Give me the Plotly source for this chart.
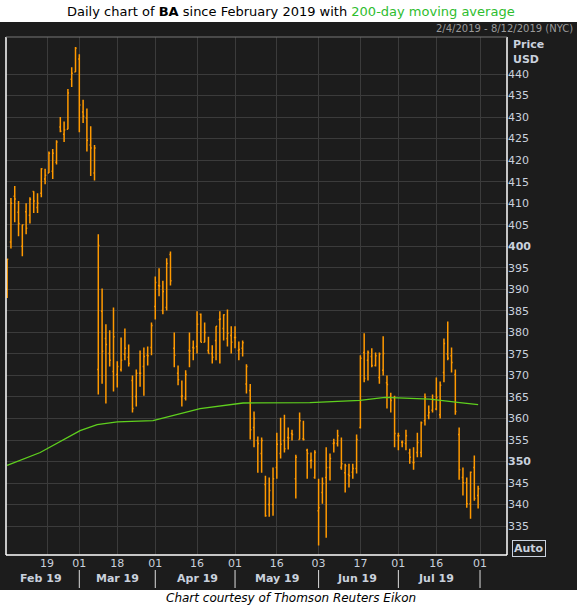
import plotly.graph_objects as go

# Daily OHLC for BA, one entry per trading bar
opens = [390, 401, 411.6, 407.9, 400, 408, 407.2, 412.7, 409, 412.3,
         415.6, 417, 417.4, 419.5, 427.7, 426, 427.2, 438.8, 440.5, 443.5,
         431.2, 429.8, 423.5, 417, 371.4, 384.9, 378.6, 375.1, 370.9, 370.2,
         371.4, 374.9, 374.2, 368.8, 365.1, 370.5, 372.1, 374.7, 376.5, 386,
         390.9, 385.1, 385.8, 398.1, 376.3, 370.5, 365.1, 364.7, 375.8, 376.5,
         376.7, 384.2, 377.7, 375.8, 375.1, 378.1, 383, 380.9, 378.6, 379.3,
         378.8, 375.8, 376.3, 368, 366.5, 357.9, 354.9, 351.9, 344.7, 340,
         340, 348.6, 351.9, 354.9, 355.6, 356.5, 346, 355.1, 355.3, 352.6,
         350.2, 346.3, 338.6, 342.8, 346.3, 348.6, 354.2, 354.2, 348.6, 347.4,
         347, 347.5, 348.4, 357.9, 375.3, 373.5, 374.4, 372.3, 369.5, 371.2,
         368.3, 365, 364.9, 356, 354.5, 354.2, 352, 349.8, 352.1, 352.1,
         359.5, 360.7, 361.9, 362.2, 360.9, 370.7, 375, 374.6, 370.2, 356.3,
         346.3, 345.1, 340.2, 348.6, 342.1]
highs = [397, 411.2, 414, 410.5, 405, 410, 411.4, 412.8, 412.3, 418.1,
         418, 422, 422.6, 424.6, 430, 429, 436.5, 441.6, 446.3, 444.6,
         434, 432, 427.9, 423.5, 402.8, 390.2, 381.9, 380.5, 385.8, 373.3,
         378.8, 380.9, 377.2, 370, 371.4, 375.8, 376.5, 376.7, 382.3, 393,
         394.9, 392, 397.2, 398.8, 380, 372.3, 368.8, 371.2, 380, 378.1,
         384.9, 384.4, 382.3, 379, 377, 381.4, 384.9, 384.2, 385.3, 381.4,
         381.4, 377.9, 378.1, 372.6, 368, 361.6, 355.8, 355.6, 346.7, 346.3,
         348.6, 356.7, 360.2, 360.9, 357.9, 357.4, 351.6, 361.4, 359.5, 353,
         352.1, 352.6, 346, 346.3, 353.3, 351.9, 355.3, 357.4, 355.6, 349.5,
         349.5, 349.5, 356.3, 374.7, 379.8, 375.8, 376.3, 375.3, 375.3, 379.1,
         370, 366, 365.3, 356.7, 354.9, 357.4, 353, 353.3, 356.7, 359.3,
         365.8, 363, 365.6, 369.5, 368.6, 378.6, 382.5, 376.5, 371.4, 357.9,
         348.6, 346.3, 347.7, 351.4, 344.4]
lows = [388, 399.5, 405.6, 402.3, 397.7, 402.8, 405.3, 407.7, 407.7, 411.4,
        414.4, 417, 415.6, 419, 426.5, 424.2, 427.2, 437, 440.5, 426.5,
        428.6, 422, 416.3, 415.3, 365.6, 368.1, 363.5, 372.1, 366.3, 367.2,
        370.9, 373.5, 372.1, 361.4, 362.8, 367.4, 365.3, 372.3, 374.7, 383,
        388.4, 384.2, 385.1, 390.9, 371.9, 367.7, 362.8, 364.2, 371.9, 373.5,
        375.1, 377.7, 377.7, 375.1, 372.8, 373.5, 372.8, 378.1, 376.7, 375.1,
        376.3, 373.5, 374.4, 365.8, 355.1, 353.3, 347.4, 347.4, 337.2, 337.2,
        337.4, 346, 350.7, 352.1, 352.8, 354.9, 341.4, 355.1, 354.9, 346,
        348.4, 346, 330.5, 340.2, 332.3, 345.6, 352.1, 353.5, 348.1, 342.8,
        344, 346, 347.2, 357.7, 368.4, 368.8, 371.9, 372.1, 368.1, 370,
        362.3, 361.4, 353.3, 352.6, 353.3, 352.6, 349.5, 348.1, 351, 351,
        358.4, 359.8, 361.4, 361.9, 360, 368.4, 373.5, 370.7, 360.9, 345.8,
        342.1, 339.3, 336.7, 340.9, 339.1]
closes = [397, 410, 411, 405.3, 405, 404.2, 410.9, 410.5, 410, 418,
          416.5, 421.6, 421.6, 424.2, 426.7, 427, 435.6, 440.2, 446, 432.8,
          430.2, 424.6, 422.8, 422.8, 400.2, 375.6, 377.2, 373.5, 379, 372.1,
          373.5, 376.3, 372.8, 362.3, 370.5, 370.5, 374.4, 374.6, 381.6, 391.6,
          390.8, 389.5, 396, 392, 374.7, 369, 365.2, 370.2, 375.7, 376.4,
          381.9, 377.7, 380, 375.1, 374.2, 381.4, 383.1, 384.1, 379.8, 377.7,
          378.8, 376, 377.6, 372.1, 357.4, 360, 354.2, 354.9, 337.4, 343.3,
          346, 354, 354, 353, 355.5, 356.3, 351, 359.5, 355.1, 351.9,
          350.3, 352.1, 339.3, 344.9, 348.6, 350.7, 354.3, 356, 349.5, 349,
          346.7, 348.4, 355.1, 374, 369.3, 375.3, 372.3, 374.6, 375, 375.1,
          367.9, 364.2, 356.5, 356, 354.5, 356, 351, 349.8, 354.4, 359,
          364.9, 361.4, 364.4, 364.9, 367.7, 377.4, 374, 373, 361.6, 348.1,
          345.1, 340.2, 347.5, 341.4, 343.7]

# 200-day moving average, sampled at bar positions
ma_idx = [0, 8.7, 19.2, 23.7, 29, 38.4, 50.8, 62.1, 79.7, 92.9, 99.5, 111.3, 119.2, 124]
ma_val = [349.1, 352.1, 357.2, 358.6, 359.2, 359.5, 362.3, 363.6, 363.7, 364.2, 364.9, 364.5, 363.7, 363.2]

# x tick positions (bar index) and labels
tick_idx = [10.5, 19, 29, 39, 50, 60, 71, 82, 93, 103, 113, 124.5]
tick_txt = ["19", "01", "18", "01", "16", "01", "16", "03", "17", "01", "16", "01"]
month_idx = [9, 29, 50, 71, 92, 113]
month_txt = ["Feb 19", "Mar 19", "Apr 19", "May 19", "Jun 19", "Jul 19"]
month_sep = [19, 39, 60, 82, 103, 124.5]

price_ticks = list(range(335, 445, 5))
price_txt = [f"<b>{p}</b>" if p in (350, 400) else str(p) for p in price_ticks]

W, H = 582, 611
ORANGE = "#ff9900"
AXC = "#c9d1dd"
FONT = "Verdana, DejaVu Sans, sans-serif"

fig = go.Figure()
fig.add_trace(go.Ohlc(
    x=list(range(len(opens))), open=opens, high=highs, low=lows, close=closes,
    increasing=dict(line=dict(color=ORANGE, width=1.5)),
    decreasing=dict(line=dict(color=ORANGE, width=1.5)),
    tickwidth=0.3, showlegend=False, hoverinfo="skip",
))
fig.add_trace(go.Scatter(
    x=ma_idx, y=ma_val, mode="lines", line=dict(color="#5fd01e", width=1.3),
    showlegend=False, hoverinfo="skip",
))

x0, x1 = 6 / W, 507 / W
y0, y1 = 1 - 555 / H, 1 - 37 / H


def py(p):
    return 1 - p / H


fig.update_layout(
    width=W, height=H, margin=dict(l=0, r=0, t=0, b=0),
    paper_bgcolor="white", plot_bgcolor="#232323",
    font=dict(family=FONT, color=AXC, size=11),
    xaxis=dict(domain=[x0, x1], range=[-0.3, 131.6], rangeslider=dict(visible=False),
               tickvals=tick_idx, ticktext=tick_txt, showgrid=True, gridcolor="#3b3b3b",
               zeroline=False, ticks="", tickfont=dict(color=AXC, size=11)),
    yaxis=dict(domain=[y0, y1], range=[328.3, 448.6], side="right",
               tickvals=price_ticks, ticktext=price_txt, showgrid=True,
               gridcolor="#3b3b3b", zeroline=False, ticks="",
               tickfont=dict(color=AXC, size=11)),
)

# dark chart panel behind everything
fig.add_shape(type="rect", xref="paper", yref="paper", x0=0, x1=577 / W,
              y0=py(590), y1=py(22), fillcolor="#1c1c1c", line_width=0,
              layer="below")
# plot frame lines
for a, b, c, d, col in [(x1, x1, y0, y1, "white"), (x0, x1, y0, y0, "white"),
                        (x0, x0, y0, y1, "white"), (x0, x1, y1, y1, "#777777")]:
    fig.add_shape(type="line", xref="paper", yref="paper", x0=a, x1=b, y0=c, y1=d,
                  line=dict(color=col, width=1.5 if col == "white" else 1))

for s in month_sep:
    fig.add_shape(type="line", xref="x", yref="paper", x0=s, x1=s,
                  y0=py(588), y1=py(570), line=dict(color="#dddddd", width=1))
for m, t in zip(month_idx, month_txt):
    fig.add_annotation(x=m, y=py(578), xref="x", yref="paper", text=f"<b>{t}</b>",
                       yanchor="middle", showarrow=False, font=dict(color=AXC, size=11))


def note(x, y, text, color, size, xanchor="center", **kw):
    fig.add_annotation(x=x / W, y=py(y), xref="paper", yref="paper", text=text,
                       xanchor=xanchor, yanchor="middle", showarrow=False,
                       font=dict(color=color, size=size, family=FONT), **kw)


note(W / 2, 12, "Daily chart of <b>BA</b> since February 2019 with "
     "<span style='color:#2ebd2e'>200-day moving average</span>", "black", 13)
note(575, 29, "2/4/2019 - 8/12/2019 (NYC)", "#9a9a9a", 10, "right")
note(511, 44, "<b>Price</b>", AXC, 11, "left")
note(511, 59, "<b>USD</b>", AXC, 11, "left")
note(512, 548, "<b>Auto</b>", AXC, 11, "left", bordercolor=AXC, borderwidth=1, borderpad=1)
note(W / 2, 598, "<i>Chart courtesy of Thomson Reuters Eikon</i>", "black", 12)

fig.write_html("out.html", config={"displayModeBar": False},
               post_script="document.body.style.margin='0';")
